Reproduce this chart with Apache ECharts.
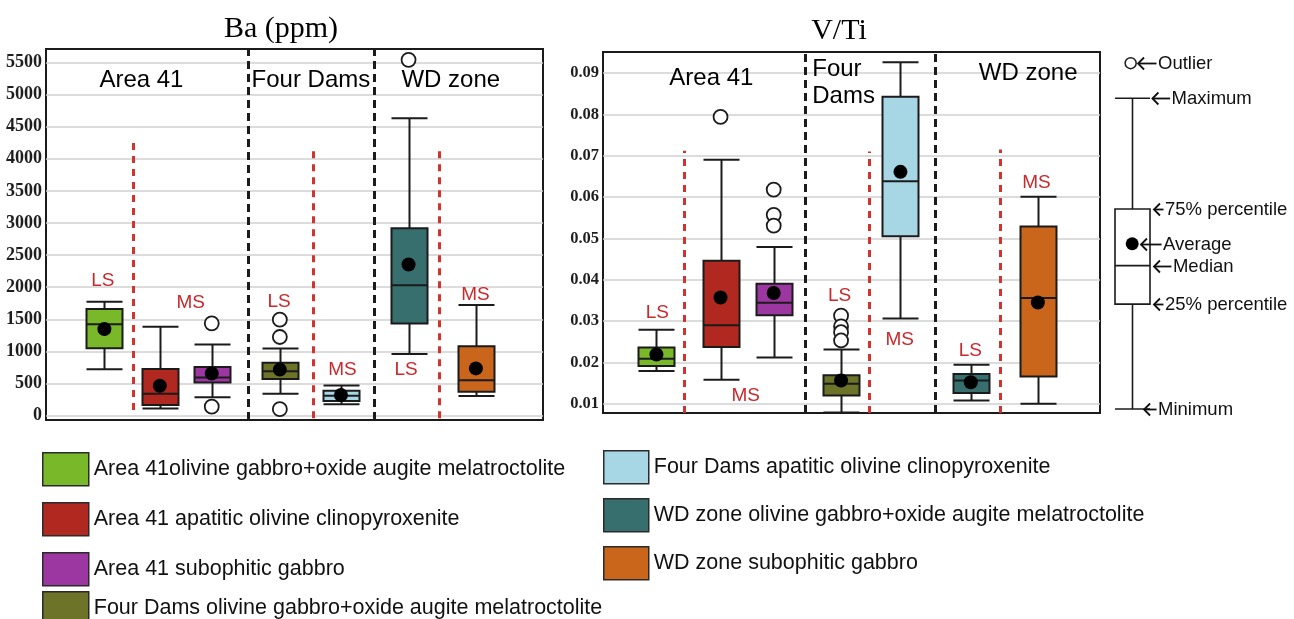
<!DOCTYPE html>
<html>
<head>
<meta charset="utf-8">
<script src="https://cdn.jsdelivr.net/npm/echarts@6/dist/echarts.min.js"></script>
<style>
  html, body { margin: 0; padding: 0; background: #fff; }
  #chart { width: 1294px; height: 619px; }
</style>
</head>
<body>
<div id="chart"></div>
<script>
// ---- Rock groups (shared by both panels and the legend) ----
const groups = [
  'Area 41olivine gabbro+oxide augite melatroctolite',
  'Area 41 apatitic olivine clinopyroxenite',
  'Area 41 subophitic gabbro',
  'Four Dams olivine gabbro+oxide augite melatroctolite',
  'Four Dams apatitic olivine clinopyroxenite',
  'WD zone olivine gabbro+oxide augite melatroctolite',
  'WD zone subophitic gabbro'
];
const groupColors = ['#78b829', '#b0281f', '#9c37a1', '#6d7328', '#a7d6e4', '#376f6e', '#c9661c'];

// ---- Ba (ppm): [min, Q1, median, Q3, max] per group ----
const baBoxes = [
  [725, 1050, 1425, 1662, 1775],
  [112, 168, 340, 728, 1385],
  [287, 518, 596, 760, 1108],
  [342, 572, 692, 824, 1048],
  [180, 230, 312, 390, 472],
  [962, 1435, 2032, 2918, 4630],
  [308, 372, 552, 1082, 1722]
];
const baMeans = [1348, 466, 658, 718, 322, 2355, 736];
const baOutliers = [[], [], [1438, 142], [1495, 1225, 102], [], [5540], []];
const baTicks = [0, 500, 1000, 1500, 2000, 2500, 3000, 3500, 4000, 4500, 5000, 5500];

// ---- V/Ti: [min, Q1, median, Q3, max] per group ----
const vtiBoxes = [
  [0.0179, 0.0191, 0.0209, 0.0236, 0.0279],
  [0.0158, 0.0237, 0.0290, 0.0446, 0.0690],
  [0.0212, 0.0314, 0.0344, 0.0390, 0.0479],
  [0.0079, 0.0120, 0.0148, 0.0169, 0.0231],
  [0.0306, 0.0505, 0.0638, 0.0843, 0.0926],
  [0.0108, 0.0126, 0.0156, 0.0172, 0.0194],
  [0.0100, 0.0166, 0.0356, 0.0529, 0.0601]
];
const vtiMeans = [0.0219, 0.0357, 0.0368, 0.0156, 0.0661, 0.0152, 0.0345];
const vtiOutliers = [[], [0.0794], [0.0618, 0.0557, 0.0531], [0.0313, 0.0287, 0.0273, 0.0253], [], [], []];
const vtiTicks = [0.01, 0.02, 0.03, 0.04, 0.05, 0.06, 0.07, 0.08, 0.09];

// ---- Text ----
const baRegions = ['Area 41', 'Four Dams', 'WD zone'];
const vtiRegions = ['Area 41', 'Four\nDams', 'WD zone'];
const sampleTags = ['LS', 'MS', 'LS', 'MS', 'LS', 'MS'];

// ---- Explanation box: [min, Q1, median, Q3, max], mean, outlier ----
const keyBox = [0.0087, 0.0341, 0.0434, 0.0571, 0.0839];
const keyMean = 0.0487;
const keyOutlier = 0.0924;
const keyLabels = ['Outlier', 'Maximum', '75% percentile', 'Average', 'Median', '25% percentile', 'Minimum'];
const keyLabelValues = [keyOutlier, keyBox[4], keyBox[3], keyMean, keyBox[2], keyBox[1], keyBox[0]];

// ---- Layout (x in percent of each panel's width, y in panel units) ----
const panels = [
  {
    grid: { left: 46, top: 49, width: 497, height: 371 },
    yMin: -67, yMax: 5709, ticks: baTicks, tickFont: 18,
    boxes: baBoxes, means: baMeans, outliers: baOutliers, regions: baRegions,
    boxX: [11.75, 22.9, 33.35, 47.05, 59.35, 72.95, 86.5],
    regionPos: [[19.2, 5223, 'center'], [53.3, 5223, 'center'], [81.45, 5223, 'center']],
    tagPos: [[11.45, 2103], [29.1, 1751], [46.9, 1776], [59.65, 712], [72.45, 712], [86.4, 1881]],
    dividers: [
      [17.6, 89, 4296, 'red'], [40.6, -67, 5709, 'black'], [53.7, -40, 4195, 'red'],
      [66.0, -67, 5709, 'black'], [79.1, -40, 4205, 'red']
    ]
  },
  {
    grid: { left: 603, top: 52, width: 497, height: 361 },
    yMin: 0.00775, yMax: 0.0951, ticks: vtiTicks, tickFont: 16.5,
    boxes: vtiBoxes, means: vtiMeans, outliers: vtiOutliers, regions: vtiRegions,
    boxX: [10.75, 23.65, 34.35, 47.9, 59.85, 74.0, 87.5],
    regionPos: [[21.8, 0.0888, 'center'], [42.1, 0.0877, 'left'], [85.55, 0.0900, 'center']],
    tagPos: [[10.95, 0.0319], [28.7, 0.0120], [47.6, 0.0360], [59.7, 0.0255], [73.9, 0.0227], [87.2, 0.0634]],
    dividers: [
      [16.3, 0.00775, 0.0712, 'red'], [40.7, 0.00775, 0.0951, 'black'], [53.5, 0.00775, 0.0710, 'red'],
      [66.9, 0.00775, 0.0951, 'black'], [79.9, 0.00775, 0.0715, 'red']
    ]
  }
];
// explanation box: x in percent of its 194px strip; arrow start and text start per label
const keyLayout = {
  grid: { left: 1100, top: 52, width: 194, height: 361 },
  boxX: 16.6,
  arrowX: [19.1, 26.5, 27.3, 20.6, 27.3, 27.3, 22.2],
  textX: [29.9, 36.9, 33.5, 32.5, 37.6, 33.5, 29.9]
};

const INK = '#1b1b1b';
const TAG_RED = '#c8292c';
const SANS = 'Liberation Sans, Arial, sans-serif';
const SERIF = 'Liberation Serif, Times New Roman, serif';

// Box-and-whisker drawn from [x, min, Q1, median, Q3, max]
function boxRenderer(fill, boxWidth, lineWidth) {
  return function (params, api) {
    const x = api.value(0);
    const pMin = api.coord([x, api.value(1)]);
    const pQ1 = api.coord([x, api.value(2)]);
    const pMed = api.coord([x, api.value(3)]);
    const pQ3 = api.coord([x, api.value(4)]);
    const pMax = api.coord([x, api.value(5)]);
    const cx = Math.round(pMin[0]) + 0.5;
    const h = boxWidth / 2;
    const ls = { stroke: INK, lineWidth: lineWidth };
    return {
      type: 'group',
      children: [
        { type: 'line', shape: { x1: cx, y1: pMax[1], x2: cx, y2: pQ3[1] }, style: ls },
        { type: 'line', shape: { x1: cx, y1: pQ1[1], x2: cx, y2: pMin[1] }, style: ls },
        { type: 'line', shape: { x1: cx - h, y1: pMax[1], x2: cx + h, y2: pMax[1] }, style: ls },
        { type: 'line', shape: { x1: cx - h, y1: pMin[1], x2: cx + h, y2: pMin[1] }, style: ls },
        { type: 'rect', shape: { x: cx - h, y: pQ3[1], width: boxWidth, height: pQ1[1] - pQ3[1] },
          style: { fill: fill, stroke: INK, lineWidth: lineWidth } },
        { type: 'line', shape: { x1: cx - h, y1: pMed[1], x2: cx + h, y2: pMed[1] }, style: ls }
      ]
    };
  };
}

// Text placed at [x, y] data positions
function textRenderer(items) {
  return function (params, api) {
    const it = items[params.dataIndex];
    const p = api.coord([api.value(0), api.value(1)]);
    return {
      type: 'text', x: p[0], y: p[1],
      style: {
        text: it.text, font: it.font, fill: it.color,
        align: it.align || 'center', verticalAlign: 'middle', lineHeight: it.lineHeight
      }
    };
  };
}

// Explanation labels: "<-" arrow from [arrowX, y] and text from [textX, y]
function keyLabelRenderer(texts) {
  return function (params, api) {
    const a = api.coord([api.value(0), api.value(2)]);
    const t = api.coord([api.value(1), api.value(2)]);
    const y = Math.round(a[1]) + 0.5;
    const ax = a[0], bx = t[0] - 1.5;
    const st = { stroke: '#111', lineWidth: 1.8, fill: null };
    return {
      type: 'group',
      children: [
        { type: 'line', shape: { x1: ax + 1, y1: y, x2: bx, y2: y }, style: st },
        { type: 'polyline', shape: { points: [[ax + 7, y - 6], [ax + 1, y], [ax + 7, y + 6]] }, style: st },
        { type: 'text', x: t[0], y: y,
          style: { text: texts[params.dataIndex], font: '18.5px ' + SANS, fill: '#111', align: 'left', verticalAlign: 'middle' } }
      ]
    };
  };
}

// Vertical dashed divider from [x, y0, y1]
function dividerRenderer(styles) {
  return function (params, api) {
    const a = api.coord([api.value(0), api.value(1)]);
    const b = api.coord([api.value(0), api.value(2)]);
    const s = styles[params.dataIndex];
    const x = Math.round(a[0]) + 0.5;
    return { type: 'line', shape: { x1: x, y1: a[1], x2: x, y2: b[1] }, style: s };
  };
}

const grids = [], xAxes = [], yAxes = [], series = [];

panels.forEach(function (p, pi) {
  grids.push(Object.assign({ show: true, borderColor: INK, borderWidth: 2, backgroundColor: 'transparent' }, p.grid));
  xAxes.push({ gridIndex: pi, type: 'value', min: 0, max: 100, show: false });
  yAxes.push({
    gridIndex: pi, type: 'value', min: p.yMin, max: p.yMax,
    axisLine: { show: false },
    axisTick: { show: false, customValues: p.ticks },
    axisLabel: {
      customValues: p.ticks, margin: 4, color: '#1e1e1e',
      fontFamily: SERIF, fontWeight: 'bold', fontSize: p.tickFont,
      formatter: function (v) { return String(v); }
    },
    splitLine: { show: true, lineStyle: { color: '#d0d0d0', width: 1.6 } }
  });

  // dashed dividers
  const divStyles = p.dividers.map(function (d) {
    return d[3] === 'red'
      ? { stroke: '#d1342f', lineWidth: 3, lineDash: [7, 6] }
      : { stroke: '#1b1b1b', lineWidth: 3, lineDash: [8, 5] };
  });
  series.push({
    type: 'custom', xAxisIndex: pi, yAxisIndex: pi, z: 2, silent: true, clip: false,
    renderItem: dividerRenderer(divStyles),
    encode: { x: 0, y: [1, 2] },
    data: p.dividers.map(function (d) { return [d[0], d[1], d[2]]; })
  });

  // boxes
  p.boxes.forEach(function (b, i) {
    series.push({
      type: 'custom', name: groups[i], xAxisIndex: pi, yAxisIndex: pi, z: 3, silent: true,
      itemStyle: { color: groupColors[i] },
      renderItem: boxRenderer(groupColors[i], 36, 2),
      encode: { x: 0, y: [1, 2, 3, 4, 5] },
      data: [[p.boxX[i]].concat(b)]
    });
  });

  // outliers
  const outData = [];
  p.outliers.forEach(function (list, i) {
    list.forEach(function (v) { outData.push([p.boxX[i], v]); });
  });
  series.push({
    type: 'scatter', xAxisIndex: pi, yAxisIndex: pi, z: 4, silent: true,
    symbol: 'circle', symbolSize: 14,
    itemStyle: { color: '#fff', borderColor: INK, borderWidth: 1.8, opacity: 1 },
    data: outData
  });

  // means
  series.push({
    type: 'scatter', xAxisIndex: pi, yAxisIndex: pi, z: 5, silent: true,
    symbol: 'circle', symbolSize: 14,
    itemStyle: { color: '#000', opacity: 1 },
    data: p.means.map(function (m, i) { return [p.boxX[i], m]; })
  });

  // region names and LS/MS tags
  const items = [], pts = [];
  p.regions.forEach(function (name, i) {
    const pos = p.regionPos[i];
    items.push({ text: name, font: '24px ' + SANS, color: '#000', align: pos[2], lineHeight: 27 });
    pts.push([pos[0], pos[1]]);
  });
  sampleTags.forEach(function (t, i) {
    items.push({ text: t, font: '19px ' + SANS, color: TAG_RED, align: 'center' });
    pts.push(p.tagPos[i]);
  });
  series.push({
    type: 'custom', xAxisIndex: pi, yAxisIndex: pi, z: 6, silent: true, clip: false,
    renderItem: textRenderer(items),
    encode: { x: 0, y: 1 },
    data: pts
  });
});

// ---- explanation box on the right ----
const ki = panels.length;
grids.push(Object.assign({ show: false }, keyLayout.grid));
xAxes.push({ gridIndex: ki, type: 'value', min: 0, max: 100, show: false });
yAxes.push({ gridIndex: ki, type: 'value', min: panels[1].yMin, max: panels[1].yMax, show: false });
series.push({
  type: 'custom', xAxisIndex: ki, yAxisIndex: ki, z: 3, silent: true,
  renderItem: boxRenderer('#fff', 35, 1.6),
  encode: { x: 0, y: [1, 2, 3, 4, 5] },
  data: [[keyLayout.boxX].concat(keyBox)]
});
series.push({
  type: 'scatter', xAxisIndex: ki, yAxisIndex: ki, silent: true, z: 4,
  symbol: 'circle', symbolSize: 11,
  itemStyle: { color: '#fff', borderColor: INK, borderWidth: 1.5, opacity: 1 },
  data: [[keyLayout.boxX - 0.8, keyOutlier]]
});
series.push({
  type: 'scatter', xAxisIndex: ki, yAxisIndex: ki, silent: true, z: 5,
  symbol: 'circle', symbolSize: 13, itemStyle: { color: '#000', opacity: 1 },
  data: [[keyLayout.boxX, keyMean]]
});
series.push({
  type: 'custom', xAxisIndex: ki, yAxisIndex: ki, z: 6, silent: true, clip: false,
  renderItem: keyLabelRenderer(keyLabels),
  encode: { x: [0, 1], y: 2 },
  data: keyLabels.map(function (t, i) { return [keyLayout.arrowX[i], keyLayout.textX[i], keyLabelValues[i]]; })
});

// ---- legends ----
function legendItems(from, to) {
  return groups.slice(from, to).map(function (g, k) {
    return { name: g, icon: 'rect', itemStyle: { color: groupColors[from + k], borderColor: '#2a2a2a', borderWidth: 1.5 } };
  });
}
const legendText = { fontFamily: SANS, fontSize: 21.5, color: '#111' };
function legendBlock(left, top, gap, from, to, w) {
  return {
    orient: 'vertical', left: left, top: top, height: 200, padding: 0,
    itemWidth: w, itemHeight: 33, itemGap: gap,
    selectedMode: false, textStyle: legendText, data: legendItems(from, to)
  };
}

const option = {
  animation: false,
  backgroundColor: '#fff',
  grid: grids,
  xAxis: xAxes,
  yAxis: yAxes,
  legend: [
    legendBlock(42, 452, 15.5, 0, 3, 46),
    legendBlock(42, 591, 15, 3, 4, 46),
    legendBlock(603, 450, 13.5, 4, 7, 45)
  ],
  graphic: [
    { type: 'text', x: 281, y: 29, style: { text: 'Ba (ppm)', font: '30px ' + SERIF, fill: '#000', textAlign: 'center', textVerticalAlign: 'middle' } },
    { type: 'text', x: 839, y: 31, style: { text: 'V/Ti', font: '30px ' + SERIF, fill: '#000', textAlign: 'center', textVerticalAlign: 'middle' } }
  ],
  series: series
};

const chart = echarts.init(document.getElementById('chart'), null, { renderer: 'canvas' });
chart.setOption(option);
</script>
</body>
</html>
